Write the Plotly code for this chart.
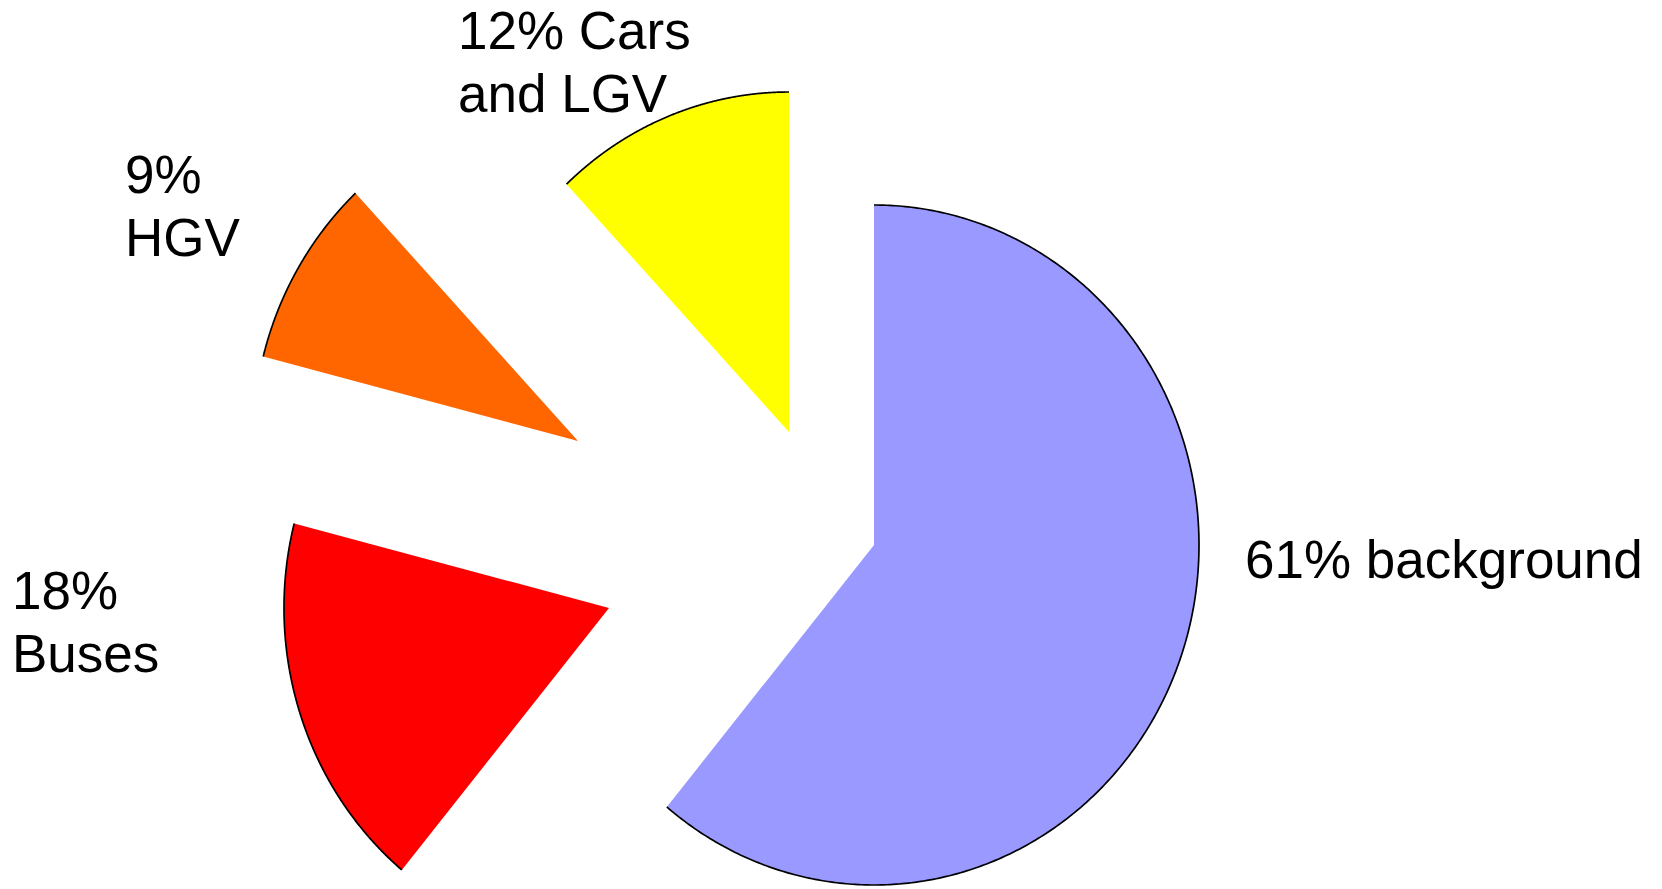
import numpy as np
import plotly.graph_objects as go

# Share of concentration by source (percent), drawn clockwise from 12 o'clock
categories = ["background", "Buses", "HGV", "Cars and LGV"]
values = [61, 18, 9, 12]
label_lines = [["61% background"], ["18%", "Buses"], ["9%", "HGV"], ["12% Cars", "and LGV"]]

# Styling and placement (pixel space of a 1662x889 canvas)
W, H = 1662, 889
colors = ["#9999FF", "#FF0000", "#FF6600", "#FFFF00"]
radius_x, radius_y = 325, 340
# apex of each exploded wedge
wedge_apex = {
    "background": (874, 545),
    "Buses": (609, 608),
    "HGV": (578, 441),
    "Cars and LGV": (789, 432),
}
# left edge and first-line baseline of each label block
label_anchor = {
    "background": (1243, 578),
    "Buses": (10, 609),
    "HGV": (123, 193),
    "Cars and LGV": (456, 49),
}
FONT_SIZE = 53
LINE_STEP = 62.5
# Liberation Sans: (ascent - descent) / 2 in em, to go from baseline to box middle
BASELINE_TO_MIDDLE = (0.905 - 0.212) / 2

fig = go.Figure()

total = float(sum(values))
bounds = np.concatenate([[0.0], np.cumsum(values)]) / total * 2 * np.pi

for i, cat in enumerate(categories):
    ax, ay = wedge_apex[cat]
    theta = np.linspace(bounds[i], bounds[i + 1], 400)
    arc_x = ax + radius_x * np.sin(theta)
    arc_y = ay - radius_y * np.cos(theta)

    # filled wedge without outline
    fig.add_trace(go.Scatter(
        x=np.concatenate([[ax], arc_x, [ax]]),
        y=np.concatenate([[ay], arc_y, [ay]]),
        mode="lines", fill="toself", fillcolor=colors[i],
        line=dict(width=0, color=colors[i], simplify=False),
        hoverinfo="skip", showlegend=False,
    ))
    # black rim along the outer arc only
    fig.add_trace(go.Scatter(
        x=arc_x, y=arc_y, mode="lines",
        line=dict(width=1.7, color="black", simplify=False),
        hoverinfo="skip", showlegend=False,
    ))

    lx, ly = label_anchor[cat]
    for k, line in enumerate(label_lines[i]):
        baseline = ly + k * LINE_STEP
        fig.add_annotation(
            x=lx, y=baseline - BASELINE_TO_MIDDLE * FONT_SIZE, xref="x", yref="y",
            text=line, showarrow=False, xanchor="left", yanchor="middle", align="left",
            font=dict(family="Liberation Sans, Arial, sans-serif", size=FONT_SIZE, color="black"),
        )

fig.update_layout(
    width=W, height=H,
    margin=dict(l=0, r=0, t=0, b=0),
    paper_bgcolor="white", plot_bgcolor="white",
    xaxis=dict(range=[0, W], visible=False, fixedrange=True),
    yaxis=dict(range=[H, 0], visible=False, fixedrange=True),
    showlegend=False,
)

fig.write_html("out.html")
